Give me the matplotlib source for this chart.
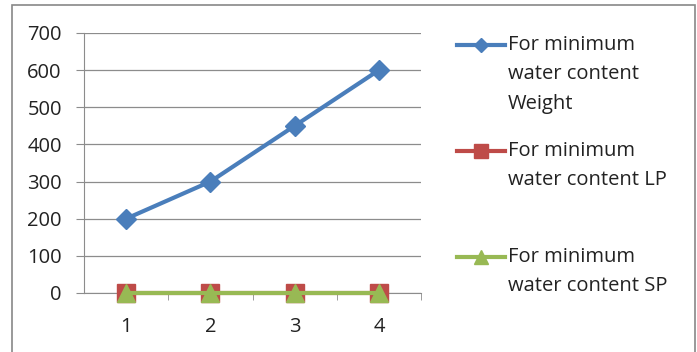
import matplotlib.pyplot as plt
from matplotlib.lines import Line2D
from matplotlib.patches import Rectangle

# datos
categorias = [1, 2, 3, 4]
peso = [200, 300, 450, 600]
lp = [0, 0, 0, 0]
sp = [0, 0, 0, 0]
etiquetas = ["For minimum\nwater content\nWeight",
             "For minimum\nwater content LP",
             "For minimum\nwater content SP"]

azul = '#4A7EBB'
rojo = '#BE4B48'
verde = '#98B954'

plt.rcParams['font.family'] = ['Open Sans', 'DejaVu Sans']

fig = plt.figure(figsize=(6.97, 3.52), dpi=100)
W, H = 697, 352
ax = fig.add_axes([84 / W, 1 - 293 / H, (421 - 84) / W, (293 - 33) / H])

# borde exterior del grafico
fig.patches.append(Rectangle((12 / W, -0.05), (695 - 12) / W, 1 - 5 / H + 0.05,
                             transform=fig.transFigure, fill=False,
                             edgecolor='#888888', linewidth=1.2))

ax.plot(categorias, peso, color=azul, lw=3, marker='D', ms=10, zorder=4)
ax.plot(categorias, lp, color=rojo, lw=3, marker='s', ms=13, zorder=3)
ax.plot(categorias, sp, color=verde, lw=3, marker='^', ms=13, zorder=4)

ax.set_xlim(0.5, 4.5)
ax.set_ylim(0, 700)
ax.set_yticks(range(0, 701, 100))
ax.set_xticks(categorias)
ax.set_xticks([1.5, 2.5, 3.5, 4.5], minor=True)
ax.grid(axis='y', color='#8C8C8C', lw=0.9)
ax.set_axisbelow(True)
for lado in ['top', 'right']:
    ax.spines[lado].set_visible(False)
ax.spines['left'].set_color('#8C8C8C')
ax.spines['bottom'].set_color('#8C8C8C')
ax.tick_params(axis='y', length=6, color='#8C8C8C', labelsize=14.5, pad=10,
               labelcolor='#222222')
ax.tick_params(axis='x', which='major', length=0, labelsize=14.5, pad=17,
               labelcolor='#222222')
ax.tick_params(axis='x', which='minor', length=5, color='#8C8C8C')
for l in ax.lines:
    l.set_clip_on(False)

# leyenda manual
colores = [azul, rojo, verde]
marcadores = [('D', 7), ('s', 10), ('^', 10)]
ys = [45, 151, 257]
for etq, c, (m, s), y in zip(etiquetas, colores, marcadores, ys):
    fig.add_artist(Line2D([457 / W, 505 / W], [1 - y / H, 1 - y / H], color=c, lw=3,
                          transform=fig.transFigure))
    fig.add_artist(Line2D([481 / W], [1 - y / H], color=c, marker=m, ms=s,
                          transform=fig.transFigure))
    fig.text(508 / W, 1 - (y - 10) / H, etq, fontsize=14.5, va='top', ha='left',
             color='#222222', linespacing=1.62)

fig.savefig('out.png', dpi=100)
